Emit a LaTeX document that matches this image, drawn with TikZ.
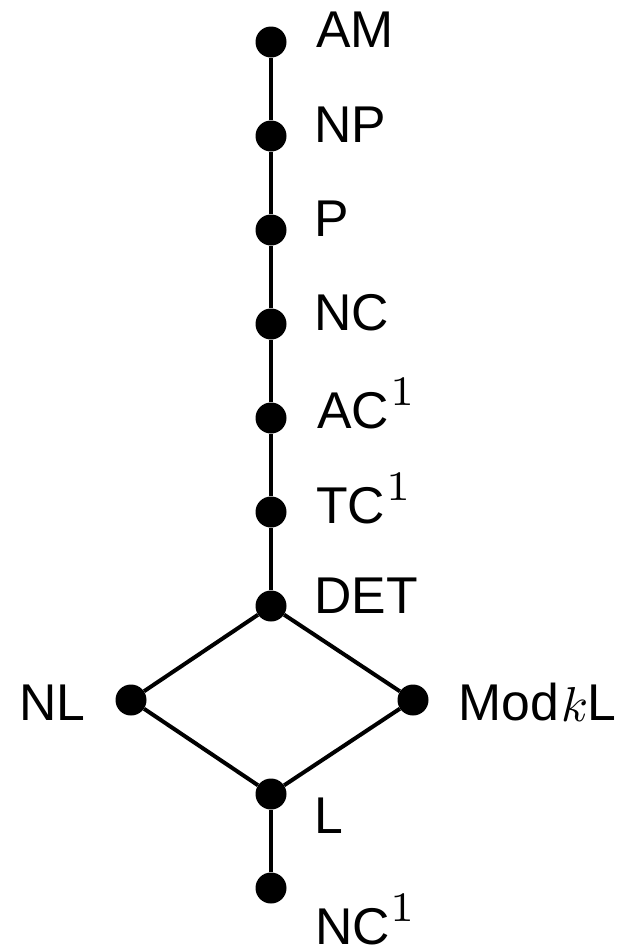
\documentclass[tikz,border=0pt]{standalone}
\usepackage{fontspec}
\setmainfont{Liberation Sans}
\newfontfamily\cmroman{lmroman7-regular.otf}
\newfontfamily\cmmath[RawFeature={+ssty=0}]{latinmodern-math.otf}
\begin{document}
\begin{tikzpicture}[x=1pt,y=-1pt,
  vertex/.style={circle,fill=black,inner sep=0pt,minimum size=31pt},
  link/.style={line width=4pt},
  lab/.style={inner sep=0pt,anchor=base west,font=\fontsize{51.7pt}{60pt}\selectfont},
]
\newcommand{\supone}{\kern1pt\raisebox{22.5pt}{\fontsize{42pt}{48pt}\cmroman 1}}
\newcommand{\subk}{\kern3pt\raisebox{-1pt}{\fontsize{49pt}{56pt}\cmmath\symbol{"1D458}}\kern0pt}
\useasboundingbox (0,0) rectangle (625,948);

% lattice points
\node[vertex] (am)  at (271,42)  {};
\node[vertex] (np)  at (271,136) {};
\node[vertex] (p)   at (271,230) {};
\node[vertex] (nc)  at (271,324) {};
\node[vertex] (ac)  at (271,418) {};
\node[vertex] (tc)  at (271,512) {};
\node[vertex] (det) at (271,606) {};
\node[vertex] (nl)  at (131,700) {};
\node[vertex] (mod) at (413,700) {};
\node[vertex] (l)   at (271,794) {};
\node[vertex] (nc1) at (271,888) {};

% order relations
\draw[link] (am) -- (np) -- (p) -- (nc) -- (ac) -- (tc) -- (det);
\draw[link] (det) -- (nl) -- (l);
\draw[link] (det) -- (mod) -- (l);
\draw[link] (l) -- (nc1);

% names
\node[lab] (tam)  at (316,47)  {AM};
\node[lab] (tnp)  at (314,142) {NP};
\node[lab] (tp)   at (314,236) {P};
\node[lab] (tnc)  at (314,330) {NC};
\node[lab] (tac)  at (317,428) {AC\supone};
\node[lab] (ttc)  at (316,523) {TC\supone};
\node[lab] (tdet) at (314,613) {DET};
\node[lab] (tnl)  at (19,720)  {NL};
\node[lab] (tmod) at (458,720) {Mod\subk L};
\node[lab] (tl)   at (314,833) {L};
\node[lab] (tnc1) at (315,944) {NC\supone};
\end{tikzpicture}
\end{document}
